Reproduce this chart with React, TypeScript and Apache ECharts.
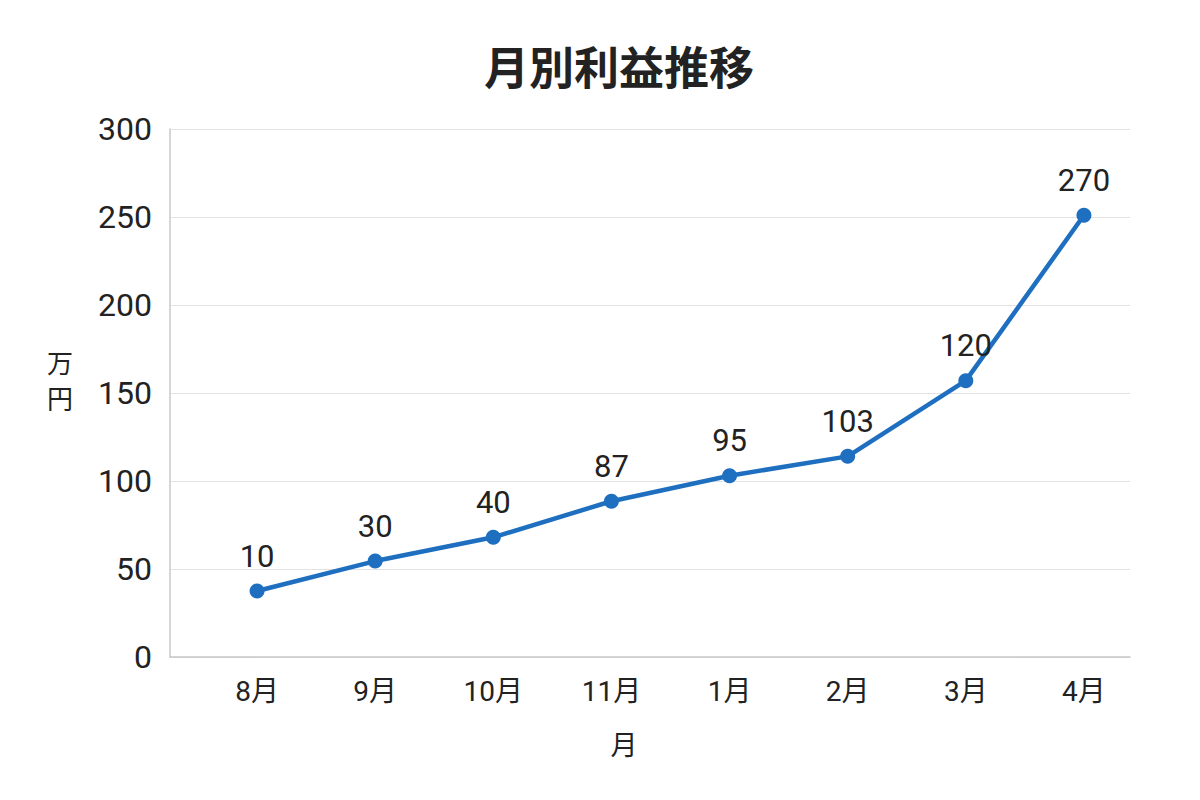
import React, { useEffect, useRef } from "react";
import * as echarts from "echarts";

const titleText = "月別利益推移";
const months = ["8月", "9月", "10月", "11月", "1月", "2月", "3月", "4月"];
const plottedValues = [37.5, 54.5, 68, 88.5, 103, 114, 157, 251];
const labelValues = [10, 30, 40, 87, 95, 103, 120, 270];
const yAxisNameChars = ["万", "円"];
const xAxisName = "月";

const FONT = "Roboto, 'Noto Sans CJK JP', sans-serif";
const CJK = "'Noto Sans CJK JP', sans-serif";

export default function App() {
  const ref = useRef<HTMLDivElement>(null);
  useEffect(() => {
    document.body.style.margin = "0";
    const chart = echarts.init(ref.current!, null, { renderer: "svg" });
    chart.setOption({
      animation: false,
      backgroundColor: "#ffffff",
      textStyle: { fontFamily: FONT },
      title: {
        text: titleText,
        left: 479,
        top: 38,
        textStyle: { fontSize: 45, fontWeight: "bold", color: "#222222", fontFamily: CJK },
      },
      grid: [
        { left: 170, right: 70, top: 129, bottom: 143 },
        { left: 198, right: 57, top: 129, bottom: 143 },
      ],
      xAxis: [
        {
          gridIndex: 0,
          type: "value",
          min: 0,
          max: 1,
          axisLabel: { show: false },
          axisTick: { show: false },
          splitLine: { show: false },
          axisLine: { show: true, lineStyle: { color: "#c8c8c8", width: 1.5 } },
        },
        {
          gridIndex: 1,
          type: "category",
          data: months,
          boundaryGap: true,
          axisLine: { show: false },
          axisTick: { show: false },
          axisLabel: { fontSize: 28, color: "#222222", margin: 20, fontFamily: FONT },
        },
      ],
      yAxis: [
        {
          gridIndex: 0,
          type: "value",
          min: 0,
          max: 300,
          interval: 50,
          axisLine: { show: true, lineStyle: { color: "#c8c8c8", width: 1.5 } },
          axisTick: { show: false },
          axisLabel: { fontSize: 32, color: "#222222", margin: 18, fontFamily: FONT },
          splitLine: { show: true, lineStyle: { color: "#e2e2e2", width: 1.2 } },
        },
        {
          gridIndex: 1,
          type: "value",
          min: 0,
          max: 300,
          show: false,
          splitLine: { show: false },
        },
      ],
      graphic: [
        ...yAxisNameChars.map((c, i) => ({
          type: "text",
          x: 60,
          y: 361 + i * 36,
          style: {
            text: c,
            fontSize: 26,
            fill: "#222222",
            fontFamily: CJK,
            align: "center",
            verticalAlign: "middle",
          },
        })),
        {
          type: "text",
          x: 624,
          y: 743,
          style: {
            text: xAxisName,
            fontSize: 27,
            fill: "#222222",
            fontFamily: CJK,
            align: "center",
            verticalAlign: "middle",
          },
        },
      ],
      series: [
        {
          type: "line",
          xAxisIndex: 1,
          yAxisIndex: 1,
          data: plottedValues,
          symbol: "circle",
          symbolSize: 15,
          lineStyle: { color: "#1f6fc1", width: 4.5 },
          itemStyle: { color: "#1f6fc1" },
          label: {
            show: true,
            position: "top",
            distance: 12,
            fontSize: 31,
            color: "#222222",
            fontFamily: FONT,
            formatter: (p: any) => String(labelValues[p.dataIndex]),
          },
        },
      ],
    });
    return () => chart.dispose();
  }, []);
  return <div ref={ref} style={{ width: 1200, height: 800 }} />;
}
